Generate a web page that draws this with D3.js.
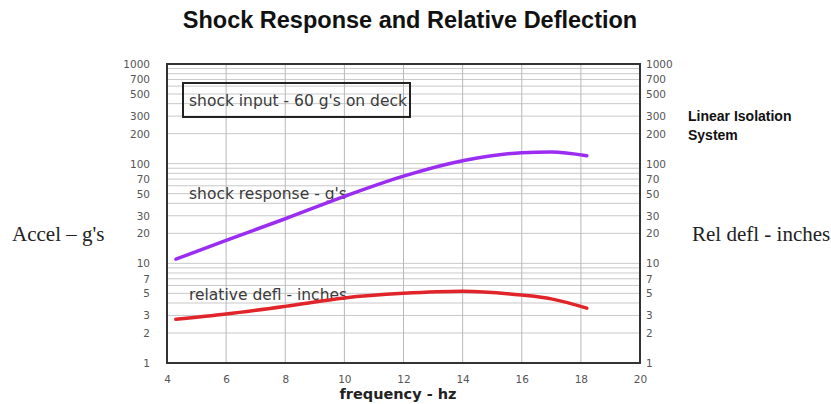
<!DOCTYPE html>
<html>
<head>
<meta charset="utf-8">
<script src="https://cdn.jsdelivr.net/npm/d3@7"></script>
<style>
  html, body { margin: 0; padding: 0; background: #fff; }
  svg { display: block; }
</style>
</head>
<body>
<svg id="chart" width="831" height="404"></svg>
<script>
// ---- data ----
const frequency = [4.3, 6, 8, 10, 12, 14, 16, 17, 18.2];
const shockResponse = [11, 17, 28, 47, 75, 107, 129, 131, 120];
const relativeDefl = [2.75, 3.1, 3.7, 4.5, 5.0, 5.25, 4.8, 4.4, 3.55];
const xTicks = [4, 6, 8, 10, 12, 14, 16, 18, 20];
const yTicks = [1, 2, 3, 5, 7, 10, 20, 30, 50, 70, 100, 200, 300, 500, 700, 1000];

const svg = d3.select("#chart");
const pLeft = 167, pRight = 640, pTop = 64, pBottom = 363;

const x = d3.scaleLinear().domain([4, 20]).range([pLeft, pRight]);
const y = d3.scaleLog().domain([1, 1000]).range([pBottom, pTop]);

// grid
const gridY = [];
for (let k = 0; k < 3; k++) for (let m = 1; m <= 9; m++) gridY.push(m * Math.pow(10, k));
gridY.push(1000);
svg.append("g").selectAll("line").data(gridY).join("line")
  .attr("x1", pLeft).attr("x2", pRight)
  .attr("y1", d => y(d)).attr("y2", d => y(d))
  .attr("stroke", "#c8c8c8").attr("stroke-width", 1);
svg.append("g").selectAll("line").data(xTicks.slice(1, -1)).join("line")
  .attr("x1", d => x(d)).attr("x2", d => x(d))
  .attr("y1", pTop).attr("y2", pBottom)
  .attr("stroke", "#b8b8b8").attr("stroke-width", 1);

// axes (labels only)
const tickFont = "DejaVu Sans, Verdana, sans-serif";
const axL = d3.axisLeft(y).tickValues(yTicks).tickFormat(d3.format("d")).tickSize(0).tickPadding(17);
const axR = d3.axisRight(y).tickValues(yTicks).tickFormat(d3.format("d")).tickSize(0).tickPadding(6);
const axB = d3.axisBottom(x).tickValues(xTicks).tickFormat(d3.format("d")).tickSize(0).tickPadding(13);
[[axL, `translate(${pLeft},0)`], [axR, `translate(${pRight},0)`], [axB, `translate(0,${pBottom})`]].forEach(([ax, t]) => {
  const g = svg.append("g").attr("transform", t).call(ax);
  g.select(".domain").remove();
  g.selectAll("text").attr("font-family", tickFont).attr("font-size", 10.5).attr("fill", "#555");
});

// frame
svg.append("rect").attr("x", pLeft).attr("y", pTop).attr("width", pRight - pLeft).attr("height", pBottom - pTop)
  .attr("fill", "none").attr("stroke", "#333").attr("stroke-width", 2);

// inline labels
const lblFont = "DejaVu Sans, Verdana, sans-serif";
svg.append("rect").attr("x", 183).attr("y", 83).attr("width", 227).attr("height", 34)
  .attr("fill", "none").attr("stroke", "#222").attr("stroke-width", 2);
const inl = (tx, ty, s) => svg.append("text").attr("x", tx).attr("y", ty).text(s)
  .attr("font-family", lblFont).attr("font-size", 15.5).attr("fill", "#3a3a3a");
inl(189, 106, "shock input - 60 g's on deck");
inl(189, 199, "shock response - g's");
inl(189, 300, "relative defl - inches");

// curves
const line = vals => d3.line().x((d, i) => x(frequency[i])).y(d => y(d)).curve(d3.curveMonotoneX)(vals);
svg.append("path").attr("d", line(shockResponse)).attr("fill", "none")
  .attr("stroke", "#9b2cf2").attr("stroke-width", 3.5).attr("stroke-linecap", "round");
svg.append("path").attr("d", line(relativeDefl)).attr("fill", "none")
  .attr("stroke", "#e0242a").attr("stroke-width", 3.5).attr("stroke-linecap", "round");

// titles
svg.append("text").attr("x", 410).attr("y", 28).attr("text-anchor", "middle")
  .text("Shock Response and Relative Deflection")
  .attr("font-family", "Liberation Sans, Arial, sans-serif").attr("font-weight", "bold")
  .attr("font-size", 23.5).attr("fill", "#111");
svg.append("text").attr("x", 398).attr("y", 399).attr("text-anchor", "middle")
  .text("frequency - hz")
  .attr("font-family", "DejaVu Sans, Verdana, sans-serif").attr("font-weight", "bold")
  .attr("font-size", 14.5).attr("fill", "#222");
svg.append("text").attr("x", 688).attr("y", 121).text("Linear Isolation")
  .attr("font-family", "Liberation Sans, Arial, sans-serif").attr("font-weight", "bold")
  .attr("font-size", 14).attr("fill", "#111");
svg.append("text").attr("x", 688).attr("y", 140).text("System")
  .attr("font-family", "Liberation Sans, Arial, sans-serif").attr("font-weight", "bold")
  .attr("font-size", 14).attr("fill", "#111");
svg.append("text").attr("x", 12).attr("y", 241).text("Accel – g's")
  .attr("font-family", "Liberation Serif, Times New Roman, serif")
  .attr("font-size", 21).attr("fill", "#222");
svg.append("text").attr("x", 692).attr("y", 241).text("Rel defl - inches")
  .attr("font-family", "Liberation Serif, Times New Roman, serif")
  .attr("font-size", 21).attr("fill", "#222");
</script>
</body>
</html>
